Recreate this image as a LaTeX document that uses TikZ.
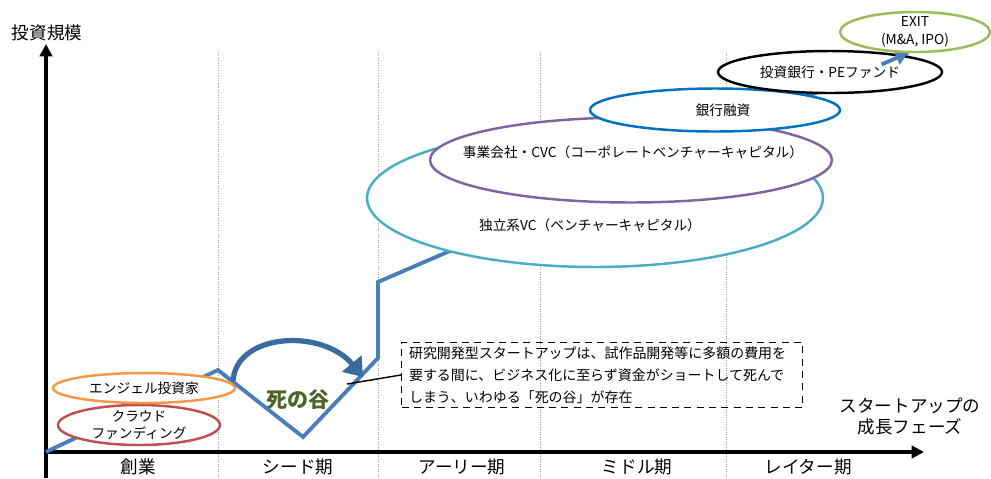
\documentclass[tikz,border=0pt]{standalone}
\usepackage{fontspec}
\setmainfont{Noto Sans CJK JP}
\usepackage{tikz}
\usetikzlibrary{arrows.meta,positioning,shapes.geometric,calc}
\definecolor{growth}{HTML}{4A7EBB}
\definecolor{valley}{HTML}{3B6A9E}
\definecolor{valleytxt}{HTML}{4F6228}
\definecolor{crowdred}{HTML}{C0504D}
\definecolor{angelor}{HTML}{F79646}
\definecolor{vcteal}{HTML}{4BACC6}
\definecolor{cvcpurple}{HTML}{8064A2}
\definecolor{bankblue}{HTML}{0070C0}
\definecolor{exitgreen}{HTML}{9BBB59}
\definecolor{guide}{HTML}{A0A0A0}
\tikzset{
  axis/.style={line width=2pt, -{Triangle[length=7pt,width=7pt]}},
  phaselbl/.style={font=\fontsize{10}{12}\selectfont},
  investor/.style={ellipse, draw=#1, fill=white, line width=1.4pt, inner sep=0pt},
  investor/.default=black,
  invtxt/.style={font=\fontsize{7.8}{10}\selectfont, align=center, inner sep=1pt},
  growthline/.style={draw=growth, line width=2.2pt, line join=miter},
  notebox/.style={rectangle, draw=black, thick, dash pattern=on 4pt off 3pt,
    text width=7.72cm, minimum height=1.3cm, inner xsep=0.15cm, inner ysep=0pt,
    font=\fontsize{7.95}{12.5}\selectfont, align=left},
}

\begin{document}
\begin{tikzpicture}[x=0.02cm, y=-0.02cm]
\useasboundingbox (0,0) rectangle (991,478);
% phase guides
\foreach \gx in {218,378,540,726}
  \draw[guide, densely dotted, thin] (\gx,53) -- (\gx,478);
% axes
\coordinate (orig) at (46,452);
\draw[axis] (46,478) -- (46,44);
\draw[axis] (orig) -- (924,452);
\node[phaselbl] (ylbl) at (47,33) {投資規模};
\node[phaselbl, align=center] (xlbl) at (910,416) {スタートアップの\\成長フェーズ};
\node[phaselbl] (ph1) at (138,467) {創業};
\node[phaselbl] (ph2) at (298,467) {シード期};
\node[phaselbl] (ph3) at (462,467) {アーリー期};
\node[phaselbl] (ph4) at (637,467) {ミドル期};
\node[phaselbl] (ph5) at (808,467) {レイター期};
% growth curve
\coordinate (g1) at (218,370);
\coordinate (g2) at (303,437);
\coordinate (g3) at (378,358);
\coordinate (g4) at (378,282);
\coordinate (g5) at (908,53);
\draw[growthline] (orig) -- (g1) -- (g2) -- (g3) -- (g4) -- (g5);
% investors
\node[investor=crowdred, minimum width=3.24cm, minimum height=0.8cm] (crowd) at (139,425) {};
\node[invtxt] (crowdtxt) at (crowd.center) {クラウド\\ファンディング};
\node[investor=angelor, minimum width=3.64cm, minimum height=0.6cm] (angel) at (144,388) {};
\node[invtxt] (angeltxt) at (angel.center) {エンジェル投資家};
\node[investor=vcteal, minimum width=9.12cm, minimum height=2.76cm] (vc) at (595,198) {};
\node[invtxt] (vctxt) at (590,225) {独立系VC（ベンチャーキャピタル）};
\node[investor=cvcpurple, minimum width=8.04cm, minimum height=1.7cm] (cvc) at (631,160) {};
\node[invtxt] (cvctxt) at (633,152) {事業会社・CVC（コーポレートベンチャーキャピタル）};
\node[investor=bankblue, minimum width=5.0cm, minimum height=0.86cm] (bank) at (715,110) {};
\node[invtxt] (banktxt) at (723,110) {銀行融資};
\node[investor, minimum width=4.48cm, minimum height=0.84cm] (ib) at (830,72) {};
\node[invtxt] (ibtxt) at (ib.center) {投資銀行・PEファンド};
\draw[growthline, -{Triangle[length=7pt,width=8pt]}] ($(g4)!0.95!(g5)$) -- (g5);
\node[investor=exitgreen, minimum width=3.0cm, minimum height=0.8cm] (exit) at (915,32) {};
\node[invtxt] (exittxt) at (exit.center) {EXIT\\(M\&A, IPO)};
% valley of death
\coordinate (dvl) at (233,381);
\coordinate (dvr) at (363,377);
\draw[valley, line width=3pt, -{Triangle[length=10pt,width=14pt]}]
  (dvl) .. controls (236,333) and (322,328) .. (dvr);
\node[font=\fontsize{12}{14}\selectfont\bfseries, text=valleytxt] (dvtxt) at (298,400) {死の谷};
\node[notebox] (note) at (602,375)
  {研究開発型スタートアップは、試作品開発等に多額の費用を\\
   要する間に、ビジネス化に至らず資金がショートして死んで\\
   しまう、いわゆる「死の谷」が存在};
\coordinate (vpoint) at (347,384);
\draw[thick] (vpoint) -- (note.west);
\end{tikzpicture}
\end{document}
